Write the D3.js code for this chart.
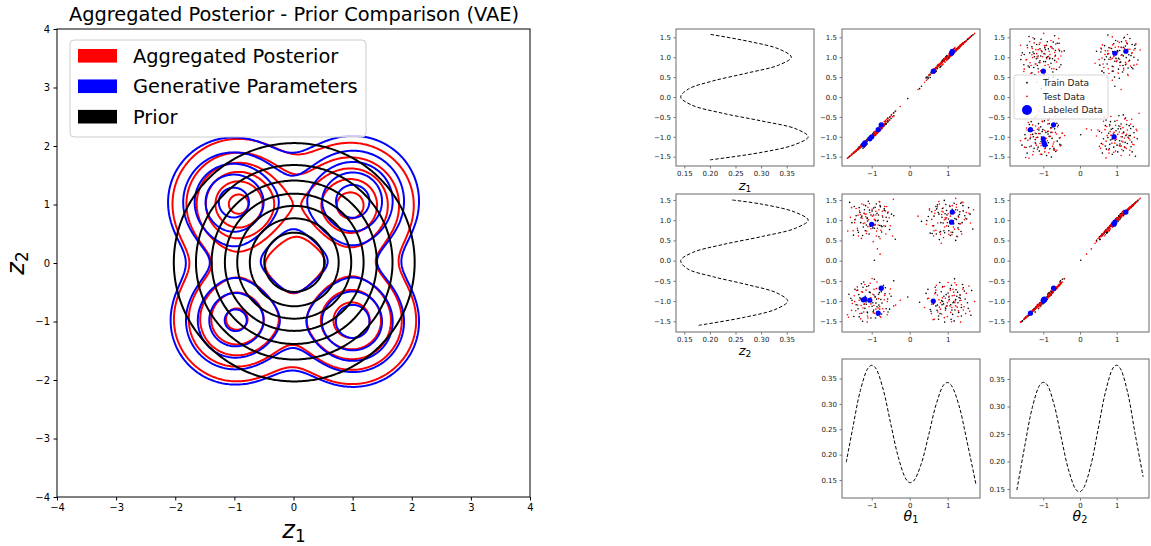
<!DOCTYPE html>
<html><head><meta charset="utf-8">
<script src="https://cdn.jsdelivr.net/npm/d3@7"></script>
<style>body{margin:0;background:#fff;} svg{display:block;font-family:"DejaVu Sans",sans-serif;}</style>
</head><body><svg id="c" width="1151" height="546"></svg>
<script>
// ---------------- DATA ----------------
// Left panel: Gaussian-mixture parameters behind each set of contours
const postMeanX = [-0.95, 0.96, -0.98, 0.98];
const postMeanY = [1.00, 0.98, -0.98, -1.00];
const postWeight = [0.262, 0.225, 0.220, 0.240];
const postSigma = [0.58, 0.58, 0.58, 0.58];
const genMeanX = [-1.03, 1.00, -1.00, 1.00];
const genMeanY = [1.03, 1.05, -1.00, -1.02];
const genWeight = [0.245, 0.250, 0.235, 0.250];
const genSigma = [0.60, 0.60, 0.60, 0.60];
const priorMeanX = [0], priorMeanY = [0], priorWeight = [1], priorSigma = [1];
const mixLevels = [0.02, 0.04, 0.06, 0.08, 0.10, 0.12];
const priorLevels = [0.02, 0.04, 0.06, 0.08, 0.10, 0.12, 0.14];
const axisTicks = [-4, -3, -2, -1, 0, 1, 2, 3, 4];
const legendLabels = ["Aggregated Posterior", "Generative Parameters", "Prior"];
const legendColors = ["#ff0000", "#0000ff", "#000000"];

// Right panels: marginal densities
const z1MargPos = [-1.58,-1.4,-1.2,-1.0,-0.8,-0.6,-0.4,-0.2,0,0.2,0.4,0.6,0.8,1.0,1.2,1.4,1.58];
const z1MargDens = [0.200,0.297,0.365,0.392,0.368,0.300,0.222,0.164,0.143,0.158,0.205,0.272,0.334,0.359,0.336,0.275,0.198];
const z2MargPos = [-1.6,-1.4,-1.2,-1.0,-0.8,-0.6,-0.4,-0.2,0,0.2,0.4,0.6,0.8,1.0,1.2,1.4,1.5];
const z2MargDens = [0.178,0.268,0.329,0.352,0.331,0.275,0.207,0.156,0.143,0.166,0.226,0.303,0.367,0.392,0.366,0.300,0.243];
const theta1X = [-1.67,-1.5,-1.3,-1.1,-1.0,-0.9,-0.7,-0.5,-0.3,-0.1,0,0.1,0.3,0.5,0.7,0.9,1.0,1.1,1.3,1.5,1.75];
const theta1Dens = [0.185,0.252,0.326,0.370,0.376,0.371,0.329,0.261,0.195,0.152,0.145,0.148,0.181,0.239,0.300,0.338,0.342,0.336,0.296,0.229,0.139];
const theta2X = [-1.72,-1.5,-1.3,-1.1,-1.0,-0.9,-0.7,-0.5,-0.3,-0.1,0,0.1,0.3,0.5,0.7,0.9,1.0,1.1,1.3,1.5,1.72];
const theta2Dens = [0.148,0.230,0.298,0.3385,0.344,0.340,0.302,0.240,0.182,0.148,0.145,0.152,0.194,0.261,0.328,0.370,0.375,0.369,0.325,0.251,0.172];

// Scatter points, columns: [theta1, theta2, z1, z2]
const trainData = [
[-1.12,1.08,-1.10,1.06],[-0.79,0.85,-0.81,0.87],[-1.31,1.22,-1.27,1.19],[-0.95,1.34,-0.97,1.30],[-0.82,1.11,-0.80,1.13],[-1.22,0.81,-1.19,0.83],[-0.67,1.27,-0.69,1.24],[-1.07,0.64,-1.05,0.66],[-0.59,0.95,-0.61,0.97],[-1.44,1.03,-1.38,1.01],[-0.91,0.91,-0.93,0.89],[-1.16,1.41,-1.13,1.36],[-0.74,0.69,-0.72,0.71],[-1.35,0.72,-1.31,0.70],[-0.86,1.19,-0.88,1.17],[-1.02,1.15,-1.00,1.13],[-0.71,1.06,-0.73,1.08],[-1.26,1.12,-1.23,1.10],[-0.93,0.78,-0.91,0.80],[-1.11,0.96,-1.09,0.98],[-0.48,1.18,-0.45,1.15],[-1.48,0.61,-1.41,0.63],[-0.88,1.47,-0.90,1.40],[-1.19,1.29,-1.17,1.26],[-0.64,0.83,-0.62,0.85],[-1.04,0.87,-1.06,0.85],[-0.77,1.38,-0.79,1.33],[-1.29,0.92,-1.26,0.94],[-0.99,1.25,-0.97,1.23],[-0.38,0.55,-0.36,0.53],[-1.58,1.51,-1.49,1.44],[-0.83,0.98,-0.85,1.00],
[-0.97,0.76,-1.02,0.81],[-1.33,1.39,-1.25,1.31],[-0.62,1.12,-0.68,1.07],[-1.14,0.83,-1.08,0.88],[-0.78,1.45,-0.74,1.36],[-1.41,1.18,-1.35,1.11],[-0.90,0.94,-0.96,0.99],[-1.06,1.31,-1.01,1.25],[-0.53,0.71,-0.58,0.77],[-1.24,0.58,-1.17,0.62],[-0.85,1.04,-0.80,0.98],[-1.52,0.88,-1.44,0.94],[-0.73,0.89,-0.79,0.84],[-1.09,1.56,-1.05,1.47],[-0.67,1.34,-0.72,1.28],[-1.28,1.01,-1.21,1.06],[-0.95,1.19,-0.90,1.13],[-1.17,0.69,-1.23,0.74],[-0.58,1.24,-0.53,1.18],[-1.37,0.80,-1.30,0.75],[-0.81,0.53,-0.86,0.59],[-1.03,0.92,-0.98,0.86],[-0.42,1.06,-0.47,1.11],[-1.20,1.23,-1.14,1.17],[-0.91,1.37,-0.97,1.32],[-1.46,1.42,-1.38,1.34],[-0.75,0.81,-0.70,0.86],[-1.12,1.09,-1.18,1.04],
[1.14,0.94,1.12,0.96],[0.77,1.17,0.79,1.15],[1.32,1.24,1.28,1.21],[0.92,0.67,0.94,0.69],[1.19,1.02,1.17,1.04],[0.63,0.88,0.65,0.86],[1.06,1.39,1.04,1.34],[1.27,0.79,1.24,0.81],[0.85,1.09,0.87,1.07],[1.45,1.13,1.39,1.11],[0.71,1.31,0.73,1.28],[1.02,0.83,1.00,0.85],[1.11,1.21,1.13,1.19],[0.59,0.65,0.61,0.67],[1.24,0.58,1.21,0.60],[0.95,1.05,0.97,1.03],[1.38,0.92,1.34,0.94],[0.81,0.74,0.83,0.72],[1.08,1.14,1.06,1.16],[0.73,1.44,0.71,1.38],[1.55,1.36,1.47,1.31],[0.88,0.95,0.90,0.93],[1.21,1.29,1.19,1.26],[0.49,1.07,0.47,1.09],[1.16,0.89,1.14,0.91],[0.97,1.26,0.99,1.24],[1.34,1.49,1.30,1.42],[0.78,0.54,0.80,0.52],[1.03,0.72,1.01,0.74],[1.66,0.76,1.56,0.78],[0.91,1.58,0.93,1.49],[1.28,1.12,1.25,1.10],
[0.98,1.18,1.04,1.13],[1.29,0.86,1.22,0.92],[0.64,1.05,0.70,1.10],[1.12,1.33,1.06,1.27],[1.41,1.29,1.34,1.23],[0.82,0.88,0.77,0.94],[1.07,0.57,1.13,0.62],[0.69,1.41,0.74,1.34],[1.23,1.08,1.17,1.02],[0.90,0.79,0.95,0.74],[1.50,0.97,1.42,1.03],[0.54,0.73,0.49,0.68],[1.17,1.50,1.22,1.42],[0.93,1.11,0.88,1.16],[1.35,0.67,1.29,0.72],[0.75,1.24,0.81,1.19],[1.02,0.98,0.97,1.03],[1.31,1.19,1.25,1.14],[0.58,1.16,0.63,1.21],[1.13,0.75,1.08,0.70],[0.86,1.35,0.92,1.29],[1.59,1.21,1.50,1.15],[0.70,0.60,0.65,0.66],[1.09,1.03,1.14,0.98],[0.45,0.94,0.50,0.99],[1.21,0.45,1.15,0.50],[0.95,1.47,1.00,1.39],[1.40,1.42,1.32,1.36],
[-0.91,-0.87,-0.93,-0.89],[-1.18,-1.21,-1.16,-1.18],[-0.73,-1.07,-0.75,-1.05],[-1.34,-0.82,-1.30,-0.84],[-0.96,-1.29,-0.94,-1.26],[-0.78,-0.69,-0.80,-0.71],[-1.09,-0.98,-1.07,-1.00],[-1.41,-1.11,-1.36,-1.09],[-0.65,-0.84,-0.67,-0.82],[-1.13,-0.62,-1.11,-0.64],[-0.84,-1.39,-0.86,-1.35],[-1.26,-1.33,-1.23,-1.30],[-0.53,-1.22,-0.51,-1.20],[-1.06,-0.76,-1.04,-0.78],[-0.87,-0.93,-0.89,-0.95],[-1.31,-0.94,-1.28,-0.92],[-0.99,-1.15,-1.01,-1.13],[-1.21,-0.55,-1.19,-0.53],[-0.69,-0.59,-0.71,-0.61],[-1.47,-1.44,-1.41,-1.38],[-0.81,-1.12,-0.83,-1.10],[-1.14,-1.06,-1.12,-1.08],[-0.58,-0.97,-0.60,-0.95],[-1.37,-0.71,-1.33,-0.73],[-0.93,-0.48,-0.91,-0.46],[-1.02,-1.48,-1.04,-1.42],[-0.75,-0.79,-0.77,-0.77],[-1.55,-0.91,-1.47,-0.93],[-0.42,-0.53,-0.40,-0.50],[-1.24,-1.58,-1.21,-1.50],[-0.89,-1.03,-0.87,-1.05],[-1.17,-0.86,-1.15,-0.88],
[-0.86,-1.20,-0.92,-1.14],[-1.29,-0.89,-1.22,-0.95],[-0.64,-0.72,-0.69,-0.67],[-1.11,-1.36,-1.05,-1.29],[-0.76,-1.01,-0.82,-0.96],[-1.44,-0.66,-1.37,-0.71],[-0.94,-0.79,-0.89,-0.85],[-1.20,-1.14,-1.26,-1.08],[-0.57,-1.33,-0.62,-1.27],[-1.08,-0.56,-1.03,-0.62],[-0.82,-0.88,-0.87,-0.83],[-1.36,-1.25,-1.29,-1.19],[-0.71,-0.63,-0.66,-0.68],[-1.15,-0.97,-1.21,-1.02],[-0.97,-1.09,-0.92,-1.04],[-1.52,-1.04,-1.44,-0.98],[-0.62,-1.13,-0.67,-1.19],[-1.27,-0.52,-1.21,-0.57],[-0.90,-1.50,-0.95,-1.42],[-1.04,-0.84,-0.99,-0.79],[-0.49,-0.83,-0.54,-0.88],[-1.33,-1.47,-1.27,-1.39],[-0.80,-0.74,-0.75,-0.79],[-1.23,-0.71,-1.29,-0.66],[-0.95,-1.27,-1.00,-1.22],[-1.60,-0.78,-1.51,-0.83],[-0.74,-1.38,-0.69,-1.32],[-1.12,-1.22,-1.07,-1.27],
[0.89,-1.09,0.91,-1.07],[1.24,-0.86,1.21,-0.88],[0.72,-1.26,0.74,-1.23],[1.07,-0.67,1.05,-0.69],[1.36,-1.18,1.32,-1.16],[0.83,-0.79,0.85,-0.77],[1.13,-1.37,1.11,-1.33],[0.61,-0.96,0.63,-0.98],[1.21,-0.94,1.19,-0.96],[0.94,-1.19,0.96,-1.17],[1.44,-0.73,1.38,-0.75],[0.76,-1.41,0.78,-1.37],[1.03,-0.88,1.01,-0.90],[1.29,-1.31,1.26,-1.28],[0.67,-0.64,0.69,-0.66],[1.16,-1.04,1.14,-1.02],[0.87,-0.99,0.89,-1.01],[1.39,-0.57,1.35,-0.59],[0.54,-1.23,0.56,-1.21],[1.09,-1.52,1.07,-1.45],[0.79,-0.52,0.81,-0.54],[1.52,-1.06,1.45,-1.04],[0.96,-0.82,0.98,-0.84],[1.26,-0.76,1.23,-0.78],[0.69,-1.14,0.71,-1.12],[1.11,-1.25,1.09,-1.22],[0.48,-0.73,0.50,-0.71],[1.61,-1.39,1.52,-1.35],[1.18,-0.43,1.16,-0.45],[0.92,-1.61,0.94,-1.52],[1.33,-0.91,1.30,-0.93],[0.85,-1.11,0.87,-1.09],
[1.04,-0.91,0.99,-0.96],[0.73,-1.16,0.79,-1.10],[1.33,-0.79,1.27,-0.85],[0.87,-0.69,0.92,-0.64],[1.19,-1.28,1.13,-1.22],[0.62,-1.01,0.67,-1.07],[1.10,-0.56,1.16,-0.61],[1.27,-1.09,1.21,-1.04],[0.80,-1.38,0.75,-1.31],[1.46,-0.89,1.39,-0.95],[0.95,-1.24,1.01,-1.19],[1.14,-0.98,1.09,-1.04],[0.68,-0.74,0.63,-0.79],[1.36,-1.44,1.30,-1.37],[0.90,-0.83,0.96,-0.88],[1.22,-0.67,1.17,-0.72],[0.56,-1.31,0.61,-1.25],[1.08,-1.14,1.03,-1.09],[1.54,-1.24,1.46,-1.18],[0.84,-0.94,0.89,-0.99],[1.30,-0.96,1.24,-0.91],[0.76,-1.53,0.81,-1.45],[1.01,-0.75,0.96,-0.80],[1.41,-0.62,1.35,-0.67],[0.43,-0.86,0.48,-0.81],[1.17,-1.57,1.11,-1.49],[0.98,-1.07,1.03,-1.12],[1.63,-0.69,1.54,-0.74],
[0.26,-1.05,0.21,-1.03],[0.31,0.95,0.27,0.97],[-0.05,-0.92,-0.04,-0.90],[-0.93,0.02,-0.95,0.01]
];
const testData = [
[-0.94,0.86,-0.96,0.88],[-1.25,1.07,-1.22,1.05],[-0.81,1.29,-0.83,1.26],[-1.38,0.78,-1.33,0.80],[-0.69,0.97,-0.71,0.99],[-1.10,1.36,-1.08,1.32],[-0.76,0.73,-0.74,0.75],[-1.18,0.95,-1.16,0.93],[-0.98,1.12,-1.00,1.10],[-0.57,1.22,-0.55,1.20],[-1.32,1.26,-1.29,1.23],[-0.88,0.59,-0.90,0.61],[-1.05,1.21,-1.03,1.19],[-0.72,1.09,-0.74,1.11],[-1.45,0.92,-1.39,0.94],[-0.85,0.82,-0.87,0.80],[-1.21,1.44,-1.19,1.38],[-0.63,0.64,-0.61,0.66],[-1.13,0.71,-1.11,0.73],[-0.92,1.03,-0.94,1.01],[-1.53,1.35,-1.46,1.31],[-0.51,0.84,-0.49,0.86],[-1.27,0.53,-1.24,0.55],[-0.79,1.53,-0.81,1.45],[-1.08,0.99,-1.06,1.01],[-0.66,1.38,-0.68,1.34],[-1.36,1.14,-1.32,1.12],[-0.96,0.45,-0.98,0.47],[-1.63,0.71,-1.53,0.73],[-0.43,1.61,-0.41,1.52],[-1.15,1.17,-1.13,1.15],[-0.89,1.15,-0.91,1.13],
[-0.89,1.27,-0.94,1.22],[-1.22,0.87,-1.16,0.92],[-0.68,0.81,-0.73,0.86],[-1.41,1.36,-1.34,1.29],[-0.93,1.07,-0.88,1.02],[-1.14,0.62,-1.19,0.67],[-0.61,1.41,-0.56,1.34],[-1.30,1.09,-1.24,1.14],[-0.83,0.93,-0.89,0.88],[-1.06,1.48,-1.01,1.41],[-0.72,1.17,-0.77,1.22],[-1.49,0.79,-1.41,0.74],[-0.87,0.68,-0.82,0.73],[-1.19,1.21,-1.25,1.16],[-0.54,1.01,-0.59,1.06],[-1.35,0.56,-1.29,0.61],[-0.99,1.33,-1.04,1.27],[-1.10,0.89,-1.05,0.84],[-0.78,0.49,-0.83,0.54],[-1.56,1.12,-1.47,1.07],[-0.64,1.28,-0.59,1.23],[-1.26,1.47,-1.20,1.40],[-0.91,0.84,-0.96,0.89],[-1.43,0.97,-1.36,1.02],[-0.45,0.66,-0.50,0.61],[-1.16,1.14,-1.11,1.09],[-0.80,1.55,-0.85,1.46],[-1.02,0.74,-0.97,0.79],
[1.07,1.12,1.05,1.10],[0.74,0.91,0.76,0.93],[1.29,1.05,1.26,1.07],[0.88,1.33,0.90,1.30],[1.18,0.76,1.16,0.78],[0.66,1.19,0.68,1.17],[1.41,1.27,1.36,1.24],[0.97,0.84,0.95,0.86],[1.12,1.41,1.10,1.36],[0.81,0.63,0.83,0.65],[1.34,0.89,1.31,0.91],[0.58,1.04,0.60,1.02],[1.01,1.18,1.03,1.16],[0.91,0.99,0.89,1.01],[1.23,1.36,1.20,1.32],[0.69,0.77,0.71,0.75],[1.47,1.03,1.40,1.05],[0.85,1.24,0.87,1.22],[1.09,0.68,1.07,0.70],[0.52,1.31,0.54,1.28],[1.26,0.57,1.23,0.59],[0.78,1.47,0.80,1.40],[1.56,1.19,1.48,1.17],[0.99,0.92,1.01,0.94],[0.63,0.59,0.65,0.61],[1.37,1.52,1.33,1.44],[1.15,1.01,1.13,0.99],[0.44,0.88,0.42,0.90],[1.68,1.29,1.57,1.26],[0.83,0.41,0.85,0.43],[1.21,1.64,1.18,1.54],[0.93,1.08,0.95,1.06],
[0.92,0.88,0.97,0.83],[1.26,1.31,1.20,1.25],[0.67,1.19,0.72,1.24],[1.15,0.78,1.09,0.83],[1.44,1.07,1.37,1.01],[0.79,0.65,0.74,0.70],[1.05,1.42,1.11,1.36],[1.31,0.96,1.25,0.91],[0.88,1.26,0.83,1.20],[1.19,1.14,1.24,1.19],[0.60,0.91,0.65,0.86],[1.37,0.61,1.31,0.66],[0.97,1.01,0.92,1.06],[1.23,1.47,1.18,1.39],[0.73,1.38,0.78,1.33],[1.11,0.69,1.16,0.64],[0.84,1.09,0.79,1.14],[1.49,1.25,1.41,1.19],[0.52,1.30,0.57,1.25],[1.08,0.92,1.03,0.97],[1.29,0.82,1.23,0.77],[0.89,0.52,0.94,0.57],[1.40,1.52,1.33,1.44],[0.64,0.79,0.59,0.74],[1.16,1.21,1.21,1.16],[1.03,0.60,0.98,0.65],[0.77,1.55,0.82,1.46],[1.60,0.88,1.51,0.93],
[-1.06,-0.92,-1.04,-0.94],[-0.79,-1.16,-0.81,-1.14],[-1.27,-0.75,-1.24,-0.77],[-0.93,-1.34,-0.95,-1.30],[-1.19,-1.09,-1.17,-1.07],[-0.66,-0.88,-0.68,-0.86],[-1.42,-1.27,-1.37,-1.24],[-0.87,-0.67,-0.89,-0.69],[-1.11,-1.42,-1.09,-1.37],[-0.71,-1.21,-0.73,-1.19],[-1.33,-0.96,-1.30,-0.98],[-0.97,-0.81,-0.99,-0.83],[-1.23,-1.19,-1.21,-1.17],[-0.59,-1.03,-0.61,-1.01],[-1.02,-1.05,-1.00,-1.07],[-1.38,-0.63,-1.34,-0.65],[-0.82,-0.96,-0.84,-0.94],[-1.15,-0.71,-1.13,-0.73],[-0.76,-1.46,-0.78,-1.40],[-1.51,-1.08,-1.44,-1.06],[-0.94,-1.13,-0.92,-1.11],[-0.51,-0.68,-0.49,-0.70],[-1.29,-1.51,-1.26,-1.44],[-1.04,-0.54,-1.02,-0.56],[-0.68,-1.29,-0.70,-1.26],[-1.46,-0.85,-1.40,-0.87],[-0.89,-1.22,-0.91,-1.20],[-1.21,-0.99,-1.19,-1.01],[-0.37,-1.12,-0.35,-1.10],[-1.64,-1.39,-1.54,-1.34],[-0.99,-0.42,-0.97,-0.44],[-1.12,-1.62,-1.10,-1.52],
[-1.15,-0.89,-1.10,-0.94],[-0.79,-1.26,-0.84,-1.20],[-1.37,-1.16,-1.31,-1.10],[-0.88,-0.64,-0.93,-0.69],[-0.67,-1.02,-0.62,-0.97],[-1.24,-0.73,-1.18,-0.78],[-0.96,-1.35,-1.01,-1.29],[-1.45,-0.96,-1.38,-1.01],[-0.74,-0.79,-0.79,-0.74],[-1.07,-1.19,-1.02,-1.14],[-0.59,-1.41,-0.64,-1.34],[-1.31,-1.37,-1.25,-1.31],[-0.91,-0.86,-0.86,-0.91],[-1.18,-0.54,-1.23,-0.59],[-0.83,-1.12,-0.78,-1.17],[-1.53,-1.29,-1.45,-1.23],[-0.70,-0.61,-0.75,-0.66],[-1.02,-0.97,-1.07,-0.92],[-1.28,-1.06,-1.22,-1.11],[-0.53,-0.87,-0.58,-0.82],[-1.10,-1.50,-1.05,-1.42],[-0.78,-1.44,-0.83,-1.38],[-1.40,-0.69,-1.33,-0.74],[-0.94,-0.76,-0.89,-0.71],[-0.42,-1.17,-0.47,-1.12],[-1.21,-1.22,-1.15,-1.27],[-0.86,-0.48,-0.91,-0.53],[-1.61,-1.48,-1.52,-1.40],
[0.94,-0.91,0.96,-0.93],[1.21,-1.14,1.19,-1.12],[0.73,-0.83,0.75,-0.85],[1.08,-1.31,1.06,-1.28],[1.32,-0.97,1.29,-0.99],[0.81,-1.22,0.83,-1.20],[1.14,-0.69,1.12,-0.71],[0.64,-1.07,0.66,-1.05],[1.41,-1.25,1.36,-1.22],[0.99,-1.02,1.01,-1.04],[0.86,-0.64,0.88,-0.66],[1.27,-1.43,1.24,-1.38],[0.57,-1.34,0.59,-1.31],[1.04,-0.86,1.02,-0.88],[1.19,-1.06,1.17,-1.04],[0.77,-0.95,0.79,-0.97],[1.49,-0.79,1.42,-0.81],[0.91,-1.47,0.93,-1.41],[1.23,-0.58,1.20,-0.60],[0.69,-0.71,0.71,-0.73],[1.11,-1.18,1.09,-1.16],[0.47,-0.92,0.45,-0.94],[1.36,-1.11,1.32,-1.09],[0.84,-1.36,0.86,-1.32],[1.58,-1.28,1.49,-1.25],[1.01,-0.52,1.03,-0.54],[0.62,-1.53,0.64,-1.46],[1.17,-0.84,1.15,-0.86],[0.39,-1.18,0.37,-1.16],[1.34,-1.62,1.30,-1.52],[0.96,-1.15,0.98,-1.13],[1.71,-0.99,1.60,-1.01],
[1.12,-0.82,1.07,-0.87],[0.81,-1.09,0.86,-1.04],[1.28,-1.30,1.22,-1.24],[0.66,-0.77,0.71,-0.82],[1.06,-1.17,1.01,-1.12],[1.40,-0.66,1.33,-0.71],[0.91,-0.59,0.96,-0.64],[1.20,-1.04,1.15,-0.99],[0.74,-1.33,0.79,-1.27],[1.35,-0.93,1.29,-0.98],[0.99,-1.45,0.94,-1.38],[1.16,-0.73,1.21,-0.78],[0.58,-1.13,0.63,-1.08],[1.25,-1.20,1.19,-1.15],[0.86,-0.87,0.81,-0.92],[1.47,-1.37,1.39,-1.31],[1.03,-0.95,1.08,-1.00],[0.70,-0.56,0.75,-0.61],[1.32,-0.80,1.26,-0.85],[0.94,-1.29,0.99,-1.23],[1.19,-0.50,1.14,-0.55],[0.50,-0.98,0.55,-0.93],[1.43,-1.09,1.36,-1.14],[1.10,-1.60,1.05,-1.51],[0.78,-1.20,0.83,-1.15],[1.56,-0.58,1.47,-0.63],[0.65,-1.52,0.70,-1.45],[1.07,-0.68,1.02,-0.73],
[-0.78,0.18,-0.80,0.16],[-0.85,0.31,-0.83,0.29],[0.22,1.12,0.19,1.10],[-0.25,-1.00,-0.24,-0.98]
];
const labeledData = [
[0.62,-1.00,0.65,-1.00],[1.10,0.95,1.10,0.95],[1.12,1.25,1.15,1.20],[-0.83,-1.35,-0.82,-1.30],[-0.75,-0.72,-0.70,-0.68],[-1.05,-1.00,-1.05,-0.98],[-1.18,-0.98,-1.15,-0.95],[-1.22,-0.96,-1.20,-0.97],[-1.00,0.93,-1.00,0.90]
];
const scatterLegend = ["Train Data", "Test Data", "Labeled Data"];
const margTicksZ = [-1.5,-1.0,-0.5,0.0,0.5,1.0,1.5];
const densTicks = [0.15,0.20,0.25,0.30,0.35];
const thetaTicks = [-1,0,1];

// ---------------- DRAW ----------------
const svg = d3.select('#c');
const FONT = '"DejaVu Sans", sans-serif';

// ---- Left panel ----
const xL = d3.scaleLinear().domain([-4,4]).range([57,530]);
const yL = d3.scaleLinear().domain([-4,4]).range([497,29]);
const G0 = -3.5, GSTEP = 0.025, GN = 281;
function mixture(mx,my,w,sd){
  const v = new Array(GN*GN);
  for (let j=0;j<GN;j++){ const yy=G0+j*GSTEP;
    for (let i=0;i<GN;i++){ const xx=G0+i*GSTEP; let s=0;
      for (let k=0;k<w.length;k++){ const dx=xx-mx[k], dy=yy-my[k], v2=sd[k]*sd[k];
        s += w[k]/(2*Math.PI*v2)*Math.exp(-(dx*dx+dy*dy)/(2*v2)); }
      v[j*GN+i]=s; } }
  return v;
}
const proj = d3.geoTransform({point(px,py){ this.stream.point(xL(G0+px*GSTEP), yL(G0+py*GSTEP)); }});
const gpath = d3.geoPath(proj);
svg.append('clipPath').attr('id','clipL').append('rect').attr('x',57).attr('y',29).attr('width',473).attr('height',468);
const gC = svg.append('g').attr('clip-path','url(#clipL)');
function drawContours(vals, levels, color){
  const cs = d3.contours().size([GN,GN]).thresholds(levels)(vals);
  gC.append('g').selectAll('path').data(cs).join('path')
    .attr('d', gpath).attr('fill','none').attr('stroke',color).attr('stroke-width',2).attr('stroke-linejoin','round');
}
drawContours(mixture(postMeanX,postMeanY,postWeight,postSigma), mixLevels, legendColors[0]);
drawContours(mixture(genMeanX,genMeanY,genWeight,genSigma), mixLevels, legendColors[1]);
drawContours(mixture(priorMeanX,priorMeanY,priorWeight,priorSigma), priorLevels, legendColors[2]);

function styleAxis(g, fs){
  g.select('.domain').remove();
  g.attr('font-family', FONT).attr('font-size', fs);
  g.selectAll('.tick line').attr('stroke','#000');
  g.selectAll('.tick text').attr('fill','#000');
}
svg.append('g').attr('transform','translate(0,497)')
  .call(d3.axisBottom(xL).tickValues(axisTicks).tickFormat(d3.format('d')).tickSize(3.5).tickPadding(3.5))
  .call(g=>styleAxis(g,10));
svg.append('g').attr('transform','translate(57,0)')
  .call(d3.axisLeft(yL).tickValues(axisTicks).tickFormat(d3.format('d')).tickSize(3.5).tickPadding(3.5))
  .call(g=>styleAxis(g,10));
svg.append('rect').attr('x',57).attr('y',29).attr('width',473).attr('height',468)
  .attr('fill','none').attr('stroke','#000').attr('stroke-width',1);

svg.append('text').attr('x',294).attr('y',21).attr('text-anchor','middle')
  .attr('font-size',19.4).attr('font-family',FONT).text('Aggregated Posterior - Prior Comparison (VAE)');
function mathLabel(parent, x, y, sym, sub, fs, rotate){
  const t = parent.append('text').attr('text-anchor','middle').attr('font-family',FONT).attr('font-size',fs);
  if (rotate) t.attr('transform',`translate(${x},${y}) rotate(-90)`); else t.attr('x',x).attr('y',y);
  t.append('tspan').attr('font-style','italic').text(sym);
  t.append('tspan').attr('font-size',fs*0.7).attr('dy',fs*0.17).text(sub);
  return t;
}
mathLabel(svg, 294, 538, 'z', '1', 24, false);
mathLabel(svg, 24, 263, 'z', '2', 24, true);

// Legend (left)
const lg = svg.append('g');
lg.append('rect').attr('x',70).attr('y',40).attr('width',296).attr('height',97).attr('rx',4)
  .attr('fill','#fff').attr('fill-opacity',0.8).attr('stroke','#cccccc').attr('stroke-width',1);
const legendY = d3.scalePoint().domain(legendLabels).range([55.8, 116.7]);
legendLabels.forEach((lab,i)=>{
  const cy = legendY(lab);
  lg.append('rect').attr('x',78).attr('y',cy-6.8).attr('width',39).attr('height',13.6).attr('fill',legendColors[i]);
  lg.append('text').attr('x',133).attr('y',cy+7).attr('font-size',19.4).attr('font-family',FONT).text(lab);
});

// ---- Right panels ----
const colX = [[676,814],[842,980],[1010,1149]];
const rowY = [[29,166],[194,332],[359,498]];
const SP = '#777';
function panel(ci, ri, xd, yd, xt, yt, xf, yf){
  const [x0,x1] = colX[ci], [y0,y1] = rowY[ri];
  const x = d3.scaleLinear().domain(xd).range([x0,x1]);
  const y = d3.scaleLinear().domain(yd).range([y1,y0]);
  const id = `clip${ci}${ri}`;
  svg.append('clipPath').attr('id',id).append('rect').attr('x',x0).attr('y',y0).attr('width',x1-x0).attr('height',y1-y0);
  const ax = g => { g.select('.domain').remove(); g.attr('font-family',FONT).attr('font-size',7);
    g.selectAll('.tick line').attr('stroke',SP); g.selectAll('.tick text').attr('fill','#222'); };
  svg.append('g').attr('transform',`translate(0,${y1})`)
    .call(d3.axisBottom(x).tickValues(xt).tickFormat(xf).tickSize(2.5).tickPadding(2.5)).call(ax);
  svg.append('g').attr('transform',`translate(${x0},0)`)
    .call(d3.axisLeft(y).tickValues(yt).tickFormat(yf).tickSize(2.5).tickPadding(2.5)).call(ax);
  const body = svg.append('g').attr('clip-path',`url(#${id})`);
  svg.append('rect').attr('x',x0).attr('y',y0).attr('width',x1-x0).attr('height',y1-y0)
    .attr('fill','none').attr('stroke',SP).attr('stroke-width',1.1);
  return {x,y,body};
}
const f1 = d3.format('.1f'), f2 = d3.format('.2f'), fd = d3.format('d');
const dens = [0.1338, 0.4033];
const col2D = [-1.782, 1.850], col3D = [-1.907, 1.880];
const row1D = [-1.734, 1.709], row2D = [-1.765, 1.648];

function dashed(body, pts){
  body.append('path').datum(pts).attr('d', d3.line().curve(d3.curveCatmullRom.alpha(0.5)))
    .attr('fill','none').attr('stroke','#000').attr('stroke-width',1).attr('stroke-dasharray','3.5,2');
}
{ const p = panel(0,0,dens,row1D,densTicks,margTicksZ,f2,f1);
  dashed(p.body, z1MargPos.map((v,i)=>[p.x(z1MargDens[i]), p.y(v)])); }
{ const p = panel(0,1,dens,row2D,densTicks,margTicksZ,f2,f1);
  dashed(p.body, z2MargPos.map((v,i)=>[p.x(z2MargDens[i]), p.y(v)])); }
{ const p = panel(1,2,col2D,[0.1146,0.3884],thetaTicks,densTicks,fd,f2);
  dashed(p.body, theta1X.map((v,i)=>[p.x(v), p.y(theta1Dens[i])])); }
{ const p = panel(2,2,col3D,[0.1336,0.3864],thetaTicks,densTicks,fd,f2);
  dashed(p.body, theta2X.map((v,i)=>[p.x(v), p.y(theta2Dens[i])])); }

function scatter(p, xi, yi){
  p.body.append('g').selectAll('circle').data(trainData).join('circle')
    .attr('cx',d=>p.x(d[xi])).attr('cy',d=>p.y(d[yi])).attr('r',0.8).attr('fill','#000');
  p.body.append('g').selectAll('circle').data(testData).join('circle')
    .attr('cx',d=>p.x(d[xi])).attr('cy',d=>p.y(d[yi])).attr('r',0.8).attr('fill','#ff0000');
  p.body.append('g').selectAll('circle').data(labeledData).join('circle')
    .attr('cx',d=>p.x(d[xi])).attr('cy',d=>p.y(d[yi])).attr('r',2.6).attr('fill','#0000ff');
}
const p12 = panel(1,0,col2D,row1D,thetaTicks,margTicksZ,fd,f1); scatter(p12,0,2);
const p13 = panel(2,0,col3D,row1D,thetaTicks,margTicksZ,fd,f1); scatter(p13,1,2);
const p22 = panel(1,1,col2D,row2D,thetaTicks,margTicksZ,fd,f1); scatter(p22,0,3);
const p23 = panel(2,1,col3D,row2D,thetaTicks,margTicksZ,fd,f1); scatter(p23,1,3);

// scatter legend
const sl = svg.append('g');
sl.append('rect').attr('x',1014).attr('y',75).attr('width',94).attr('height',44).attr('rx',2)
  .attr('fill','#fff').attr('fill-opacity',0.8).attr('stroke','#cccccc').attr('stroke-width',0.8);
const slY = d3.scalePoint().domain(scatterLegend).range([82.7,110]);
const slCol = ['#000','#ff0000','#0000ff'], slR = [0.9,0.9,5];
scatterLegend.forEach((lab,i)=>{
  sl.append('circle').attr('cx',1027).attr('cy',slY(lab)).attr('r',slR[i]).attr('fill',slCol[i]);
  sl.append('text').attr('x',1043).attr('y',slY(lab)+3.2).attr('font-size',9).attr('font-family',FONT).attr('fill','#222').text(lab);
});

mathLabel(svg, 745, 190, 'z', '1', 13, false);
mathLabel(svg, 745, 355, 'z', '2', 13, false);
mathLabel(svg, 911, 521, 'θ', '1', 14, false);
mathLabel(svg, 1080, 521, 'θ', '2', 14, false);
</script></body></html>
